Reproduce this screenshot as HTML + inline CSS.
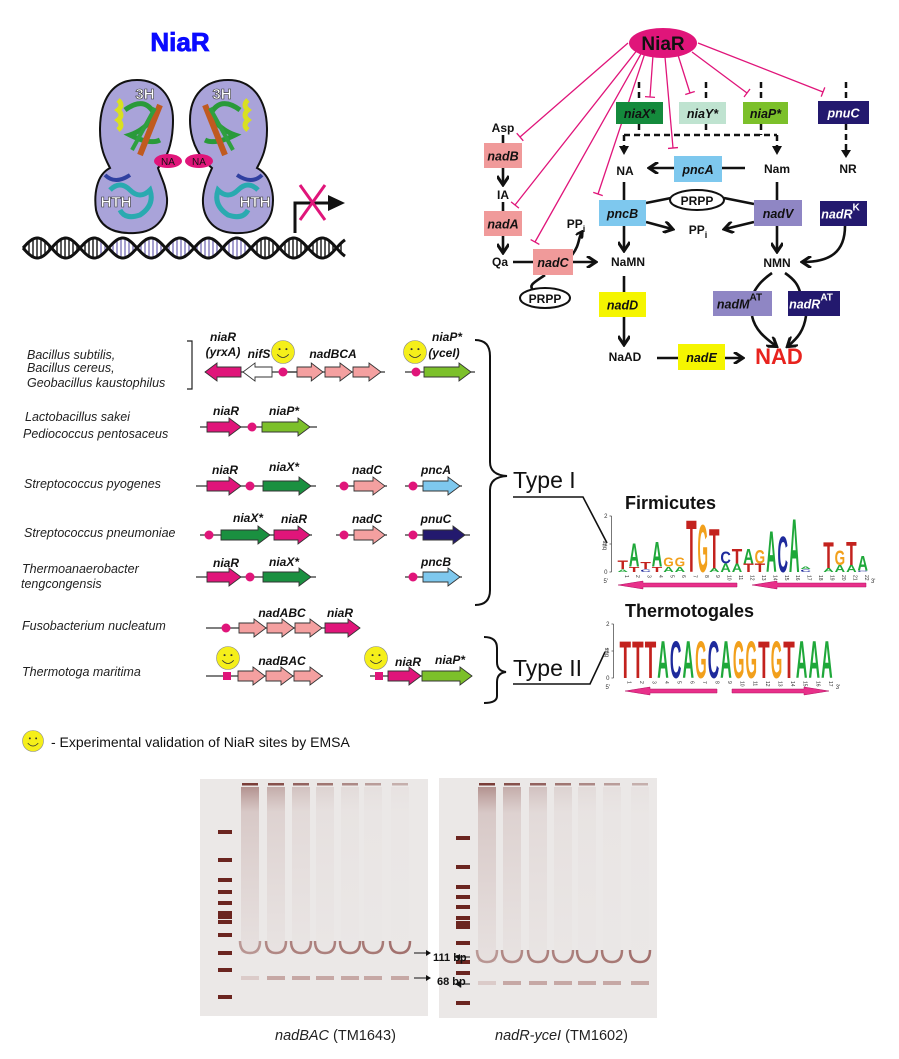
<!DOCTYPE html>
<html><head><meta charset="utf-8"><style>
html,body{margin:0;padding:0;background:#fff;}
svg{display:block;font-family:"Liberation Sans",sans-serif;}
.it{font-style:italic;font-weight:bold;font-size:12px;fill:#111;}
.sp{font-style:italic;font-size:12.5px;fill:#222;}
.bx{font-style:italic;font-weight:bold;font-size:12.5px;}
.mt{font-size:12px;font-weight:bold;fill:#111;}
</style></head><body>
<svg id="fig" width="899" height="1059" viewBox="0 0 899 1059">
<defs>
<linearGradient id="smear" x1="0" y1="0" x2="0" y2="1">
<stop offset="0" stop-color="#6e2a25" stop-opacity="0.45"/>
<stop offset="0.15" stop-color="#8a4a45" stop-opacity="0.2"/>
<stop offset="1" stop-color="#a06a66" stop-opacity="0.06"/>
</linearGradient>
<marker id="ah" markerWidth="8" markerHeight="8" refX="6" refY="4" orient="auto" markerUnits="userSpaceOnUse"><path d="M0,0 L7,4 L0,8" fill="none" stroke="#111" stroke-width="2.4"/></marker>
<marker id="ah2" markerWidth="12" markerHeight="12" refX="9" refY="6" orient="auto" markerUnits="userSpaceOnUse"><path d="M1,0 L10,6 L1,12" fill="none" stroke="#111" stroke-width="3"/></marker>
</defs>

<!-- ===== top-left protein ===== -->
<g>
<text x="180" y="51" text-anchor="middle" font-size="26" font-weight="bold" fill="#0a0aff" stroke="#0a0aff" stroke-width="0.8">NiaR</text>
<g id="dna"></g>
<g>
<path d="M137,80 C112,80 100,100 100,130 C100,150 106,160 110,168 C96,175 94,195 96,210 C100,228 115,234 135,233 C158,232 168,215 167,198 C166,185 160,175 158,168 C166,160 173,145 173,120 C173,95 158,80 137,80 Z" fill="#a9a3d9" stroke="#111" stroke-width="2"/>
<path d="M118,100 q6,5 0,10 q6,5 0,10 q6,5 0,10" stroke="#d9e020" stroke-width="5" fill="none"/>
<path d="M125,110 q20,-15 30,5 q-10,15 -25,20 q20,10 30,5" stroke="#2a9a3a" stroke-width="5" fill="none"/>
<path d="M140,155 L160,105" stroke="#c05a20" stroke-width="6"/>
<path d="M132,150 L155,108" stroke="#2fa040" stroke-width="4"/>
<path d="M110,190 q10,-10 20,0 q10,10 20,0 q5,15 -10,25 q-15,5 -20,-5" stroke="#2aaab0" stroke-width="5" fill="none"/>
<path d="M105,175 q10,10 25,0" stroke="#3040a0" stroke-width="4" fill="none"/>
</g>
<g>
<path d="M228,80 C253,80 267,100 267,130 C267,150 261,160 257,168 C271,175 275,195 272,210 C268,228 253,234 234,233 C211,232 202,215 203,198 C204,185 209,175 212,168 C202,160 190,145 190,120 C190,95 205,80 228,80 Z" fill="#a9a3d9" stroke="#111" stroke-width="2"/>
<path d="M248,100 q-6,5 0,10 q-6,5 0,10 q-6,5 0,10" stroke="#d9e020" stroke-width="5" fill="none"/>
<path d="M240,110 q-20,-15 -30,5 q10,15 25,20 q-20,10 -30,5" stroke="#2a9a3a" stroke-width="5" fill="none"/>
<path d="M225,155 L205,105" stroke="#c05a20" stroke-width="6"/>
<path d="M233,150 L210,108" stroke="#2fa040" stroke-width="4"/>
<path d="M258,190 q-10,-10 -20,0 q-10,10 -20,0 q-5,15 10,25 q15,5 20,-5" stroke="#2aaab0" stroke-width="5" fill="none"/>
<path d="M262,175 q-10,10 -25,0" stroke="#3040a0" stroke-width="4" fill="none"/>
</g>
<g font-weight="bold" font-size="15" fill="#fff" stroke="#333" stroke-width="0.6">
<text x="145" y="99" text-anchor="middle">3H</text>
<text x="222" y="99" text-anchor="middle">3H</text>
<text x="116" y="207" text-anchor="middle">HTH</text>
<text x="255" y="207" text-anchor="middle">HTH</text>
</g>
<ellipse cx="168" cy="161" rx="14" ry="7" fill="#e0157a"/>
<ellipse cx="199" cy="161" rx="14" ry="7" fill="#e0157a"/>
<text x="168" y="165" text-anchor="middle" font-size="10" fill="#111">NA</text>
<text x="199" y="165" text-anchor="middle" font-size="10" fill="#111">NA</text>
<g>
<path d="M295,233 L295,203 L330,203" stroke="#111" stroke-width="3" fill="none"/>
<path d="M328,195 L345,203 L328,211 Z" fill="#111"/>
<path d="M300,185 L325,220 M325,185 L300,220" stroke="#e0157a" stroke-width="3"/>
</g>
</g>

<!-- ===== pathway ===== -->
<g>
<g id="inhib" stroke="#e0157a" stroke-width="1.3" fill="none"></g>
<ellipse cx="663" cy="43" rx="34" ry="15" fill="#e0157a"/>
<text x="663" y="50" text-anchor="middle" font-size="19" font-weight="bold" fill="#111">NiaR</text>
<g stroke="#111" stroke-width="2.5" fill="none" stroke-dasharray="6,4">
<path d="M639,82 V102 M639,124 V135 M706,82 V102 M706,124 V135 M761,82 V102 M761,124 V135 M846,82 V101 M624,135 H777"/>
<path d="M624,135 V148 M777,135 V148 M846,124 V152"/>
</g>
<g fill="#111"><path d="M619,146 L624,155 L629,146 Z M772,146 L777,155 L782,146 Z M841,150 L846,158 L851,150 Z"/></g>
<g stroke="#111" stroke-width="2.6" fill="none">
<path d="M503,135 V143"/>
<path d="M503,168 V184" marker-end="url(#ah2)"/>
<path d="M503,202 V211"/>
<path d="M503,236 V252" marker-end="url(#ah2)"/>
<path d="M513,262 H533"/>
<path d="M573,262 H595" marker-end="url(#ah2)"/>
<path d="M572,255 C580,245 578,238 582,232" marker-end="url(#ah)"/>
<path d="M545,275 C535,282 528,285 533,290"/>
<path d="M745,168 H722"/>
<path d="M674,168 H650" marker-end="url(#ah2)"/>
<path d="M624,182 V200"/>
<path d="M624,226 V250" marker-end="url(#ah2)"/>
<path d="M646,203 L671,198 M724,198 L754,204"/>
<path d="M646,222 L672,229" marker-end="url(#ah2)"/>
<path d="M754,222 L725,229" marker-end="url(#ah2)"/>
<path d="M777,182 V200"/>
<path d="M777,226 V251" marker-end="url(#ah2)"/>
<path d="M845,226 C845,252 830,262 803,262" marker-end="url(#ah2)"/>
<path d="M624,276 V292"/>
<path d="M624,317 V344" marker-end="url(#ah2)"/>
<path d="M657,358 H678"/>
<path d="M725,358 H742" marker-end="url(#ah2)"/>
<path d="M772,273 C762,280 758,285 754,292"/>
<path d="M785,273 C795,280 798,285 800,292"/>
<path d="M752,316 C755,330 765,338 776,346" marker-end="url(#ah2)"/>
<path d="M806,316 C804,330 798,338 788,346" marker-end="url(#ah2)"/>
</g>
<ellipse cx="697" cy="200" rx="27" ry="10" fill="#fff" stroke="#111" stroke-width="2"/>
<text x="697" y="205" text-anchor="middle" class="mt">PRPP</text>
<ellipse cx="545" cy="298" rx="25" ry="10" fill="#fff" stroke="#111" stroke-width="2"/>
<text x="545" y="303" text-anchor="middle" class="mt">PRPP</text>
<g class="mt" text-anchor="middle">
<text x="503" y="132">Asp</text>
<text x="503" y="199">IA</text>
<text x="500" y="266">Qa</text>
<text x="576" y="228">PP<tspan font-size="9" dy="4">i</tspan></text>
<text x="625" y="175">NA</text>
<text x="777" y="173">Nam</text>
<text x="848" y="173">NR</text>
<text x="698" y="234">PP<tspan font-size="9" dy="4">i</tspan></text>
<text x="628" y="266">NaMN</text>
<text x="777" y="267">NMN</text>
<text x="625" y="361">NaAD</text>
</g>
<text x="779" y="364" text-anchor="middle" font-size="22" font-weight="bold" fill="#e8231e">NAD</text>
<g id="boxes"></g>
</g>

<!-- ===== operons ===== -->
<g>
<g class="sp">
<text x="27" y="359">Bacillus subtilis,</text>
<text x="27" y="372">Bacillus cereus,</text>
<text x="27" y="387">Geobacillus kaustophilus</text>
<text x="25" y="421">Lactobacillus sakei</text>
<text x="23" y="438">Pediococcus pentosaceus</text>
<text x="24" y="488">Streptococcus pyogenes</text>
<text x="24" y="537">Streptococcus pneumoniae</text>
<text x="22" y="573">Thermoanaerobacter</text>
<text x="21" y="588">tengcongensis</text>
<text x="22" y="630">Fusobacterium nucleatum</text>
<text x="22" y="676">Thermotoga maritima</text>
</g>
<path d="M187,341 H192 V389 H187" stroke="#222" stroke-width="1.2" fill="none"/>
<g id="operons"></g>
<g class="it" text-anchor="middle">
<text x="223" y="341">niaR</text>
<text x="223" y="356">(yrxA)</text>
<text x="259" y="358">nifS</text>
<text x="333" y="358">nadBCA</text>
<text x="447" y="341">niaP*</text>
<text x="444" y="357">(yceI)</text>
<text x="226" y="415">niaR</text>
<text x="284" y="415">niaP*</text>
<text x="225" y="474">niaR</text>
<text x="284" y="471">niaX*</text>
<text x="367" y="474">nadC</text>
<text x="436" y="474">pncA</text>
<text x="248" y="522">niaX*</text>
<text x="294" y="523">niaR</text>
<text x="367" y="523">nadC</text>
<text x="436" y="523">pnuC</text>
<text x="226" y="567">niaR</text>
<text x="284" y="566">niaX*</text>
<text x="436" y="566">pncB</text>
<text x="282" y="617">nadABC</text>
<text x="340" y="617">niaR</text>
<text x="282" y="665">nadBAC</text>
<text x="408" y="666">niaR</text>
<text x="450" y="664">niaP*</text>
</g>
<g id="smileys"></g>
<path d="M475,340 Q490,340 490,356 L490,462 Q490,475 507,476 Q490,477 490,490 L490,590 Q490,605 475,605" stroke="#111" stroke-width="2" fill="none"/>
<path d="M484,637 Q497,637 497,648 L497,662 Q497,671 506,672 Q497,673 497,682 L497,696 Q497,703 484,703" stroke="#111" stroke-width="2" fill="none"/>
<text x="513" y="488" font-size="23" fill="#111">Type I</text>
<path d="M513,497 H583 L607,543" stroke="#111" stroke-width="1.6" fill="none"/>
<text x="513" y="676" font-size="23" fill="#111">Type II</text>
<path d="M513,684 H590 L605,652" stroke="#111" stroke-width="1.6" fill="none"/>
</g>

<!-- ===== logos ===== -->
<g>
<text x="625" y="509" font-size="18" font-weight="bold" fill="#111">Firmicutes</text>
<text x="625" y="617" font-size="18" font-weight="bold" fill="#111">Thermotogales</text>
<g id="logo1"></g>
<g id="logo2"></g>
</g>

<!-- legend -->
<g id="legendSmile"></g>
<text x="51" y="747" font-size="14" fill="#111">- Experimental validation of NiaR sites by EMSA</text>

<!-- ===== gels ===== -->
<g>
<rect x="200" y="779" width="228" height="237" fill="#ebe8e7"/>
<rect x="439" y="778" width="218" height="240" fill="#ebe8e7"/>
<g id="gels"></g>
<g font-size="11" font-weight="bold" fill="#111">
<text x="433" y="961">111 bp</text>
<text x="437" y="985">68 bp</text>
</g>
<path d="M414,953 H428 M414,978 H428 M470,957 H458 M470,984 H458" stroke="#111" stroke-width="1"/>
<path d="M426,950 L431,953 L426,956 Z M426,975 L431,978 L426,981 Z M460,954 L455,957 L460,960 Z M460,981 L455,984 L460,987 Z" fill="#111"/>
<text x="275" y="1040" font-size="14.5" fill="#222"><tspan font-style="italic">nadBAC</tspan> (TM1643)</text>
<text x="495" y="1040" font-size="14.5" fill="#222"><tspan font-style="italic">nadR-yceI</tspan> (TM1602)</text>
</g>
</svg>
<script>
const NS="http://www.w3.org/2000/svg";
function mk(tag,attrs,parent){const e=document.createElementNS(NS,tag);for(const k in attrs)e.setAttribute(k,attrs[k]);parent.appendChild(e);return e;}

// ---- pathway boxes
const boxNames=["niaX*","niaY*","niaP*","pnuC","nadB","nadA","nadC","pncA","pncB","nadV","nadR","nadD","nadM","nadR","nadE"];
const boxSup=["","","","","","","","","","","K","","AT","AT",""];
const boxRects=[[616,102,47,22],[679,102,47,22],[743,102,45,22],[818,101,51,23],[484,143,38,25],[484,211,38,25],[533,249,40,26],[674,156,48,26],[599,200,47,26],[754,200,48,26],[820,201,47,25],[599,292,47,25],[713,291,59,25],[788,291,52,25],[678,344,47,26]];
const boxFill=["#148a3c","#bfe3d0","#7cc02a","#23196e","#f09a9a","#f09a9a","#f09a9a","#7ec8ee","#7ec8ee","#8f86c4","#23196e","#f5f500","#8f86c4","#23196e","#f5f500"];
const boxText=["#111","#111","#111","#fff","#111","#111","#111","#111","#111","#111","#fff","#111","#111","#fff","#111"];
const gb=document.getElementById('boxes');
boxNames.forEach((n,i)=>{const r=boxRects[i];
 const b=mk('rect',{x:r[0],y:r[1],width:r[2],height:r[3],fill:boxFill[i]},gb);
 
 
 const t=mk('text',{x:r[0]+r[2]/2-(boxSup[i]?3:0),y:r[1]+r[3]/2+5,'text-anchor':'middle',class:'bx',fill:boxText[i]},gb);
 if(boxSup[i])t.setAttribute('font-size','12');
 t.textContent=n;
 
 
 if(boxSup[i]){const s=mk('tspan',{dy:-8,'font-style':'normal','font-size':'10'},t);s.textContent=boxSup[i];}
});
// inhibition lines
const inhib=[[628,43,520,137],[638,49,515,205],[642,52,535,242],[645,53,598,194],[653,55,650,97],[665,57,673,148],[678,55,690,93],[692,52,747,93],[698,43,823,92]];
const gi=document.getElementById('inhib');
inhib.forEach(l=>{const dx=l[2]-l[0],dy=l[3]-l[1],L=Math.hypot(dx,dy),px=-dy/L*5,py=dx/L*5;
 const p=mk('path',{d:`M${l[0]},${l[1]} L${l[2]},${l[3]} M${l[2]+px},${l[3]+py} L${l[2]-px},${l[3]-py}`},gi);
 
 });

// ---- DNA
const gd=document.getElementById('dna');
(function(){const x0=23,x1=345,yc=248,A=10,P=57;let d1='',d2='';
 for(let x=x0;x<=x1;x+=1){const y1=yc+A*Math.sin((x-x0)/P*2*Math.PI),y2=yc-A*Math.sin((x-x0)/P*2*Math.PI);d1+=(x==x0?'M':'L')+x+','+y1.toFixed(1);d2+=(x==x0?'M':'L')+x+','+y2.toFixed(1);}
 for(let x=x0+2;x<x1;x+=4){const s=A*Math.sin((x-x0)/P*2*Math.PI);mk('line',{x1:x,x2:x,y1:yc-Math.abs(s),y2:yc+Math.abs(s),stroke:(x>100&&x<255)?'#8880c0':'#222','stroke-width':1.5},gd);}
 mk('path',{d:d1,stroke:'#111','stroke-width':3,fill:'none'},gd);mk('path',{d:d2,stroke:'#111','stroke-width':3,fill:'none'},gd);})();

// ---- operons
const lineSegs=[[205,372,300,372],[280,372,385,372],[405,372,475,372],[200,427,317,427],[196,486,316,486],[336,486,387,486],[405,486,462,486],[200,535,312,535],[336,535,387,535],[405,535,470,535],[196,577,316,577],[405,577,462,577],[206,628,360,628],[206,676,323,676],[370,676,472,676]];
const geneX1=[205,243,297,325,353,424,207,262,207,263,354,423,221,274,354,423,207,263,423,239,267,295,325,238,266,294,388,422];
const geneX2=[241,272,323,352,381,471,241,310,241,311,385,460,270,310,385,465,241,311,460,266,294,322,360,265,293,322,421,472];
const geneY=[372,372,372,372,372,372,427,427,486,486,486,486,535,535,535,535,577,577,577,628,628,628,628,676,676,676,676,676];
const geneDir=[-1,-1,1,1,1,1,1,1,1,1,1,1,1,1,1,1,1,1,1,1,1,1,1,1,1,1,1,1];
const geneColor=["#e0157a","#fff","#f4a0a0","#f4a0a0","#f4a0a0","#7cc02a","#e0157a","#7cc02a","#e0157a","#1a9040","#f4a0a0","#7ec8ee","#1a9040","#e0157a","#f4a0a0","#23196e","#e0157a","#1a9040","#7ec8ee","#f4a0a0","#f4a0a0","#f4a0a0","#e0157a","#f4a0a0","#f4a0a0","#f4a0a0","#e0157a","#7cc02a"];
const siteX=[283,416,252,250,344,413,209,344,413,250,413,226];
const siteY=[372,372,427,486,486,486,535,535,535,577,577,628];
const sqX=[227,379], sqY=[676,676];
const go=document.getElementById('operons');
lineSegs.forEach(s=>{const l=mk('line',{x1:s[0],y1:s[1],x2:s[2],y2:s[3],stroke:'#333','stroke-width':1.2},go);
 
 });
geneX1.forEach((a,i)=>{const b=geneX2[i],y=geneY[i];let pts;
 if(geneDir[i]>0){const h=b-Math.min(12,(b-a)*0.45);pts=[[a,y-5],[h,y-5],[h,y-9],[b,y],[h,y+9],[h,y+5],[a,y+5]];}
 else{const h=a+Math.min(12,(b-a)*0.45);pts=[[b,y-5],[h,y-5],[h,y-9],[a,y],[h,y+9],[h,y+5],[b,y+5]];}
 const p=mk('polygon',{points:pts.map(q=>q.join(',')).join(' '),fill:geneColor[i],stroke:'#333','stroke-width':0.9},go);
 
 });
siteX.forEach((x,i)=>{const c=mk('circle',{cx:x,cy:siteY[i],r:4.5,fill:'#e0157a'},go);
 
 });
sqX.forEach((x,i)=>{const r=mk('rect',{x:x-4,y:sqY[i]-4,width:8,height:8,fill:'#e0157a'},go);
 
 });

function smiley(cx,cy,r,parent){const g=mk('g',{},parent);
 mk('circle',{cx:cx,cy:cy,r:r,fill:'#f5ef1a',stroke:'#888','stroke-width':0.6},g);
 mk('circle',{cx:cx-r*0.3,cy:cy-r*0.25,r:r*0.09,fill:'#333'},g);mk('circle',{cx:cx+r*0.3,cy:cy-r*0.25,r:r*0.09,fill:'#333'},g);
 mk('path',{d:`M${cx-r*0.5},${cy+r*0.2} Q${cx},${cy+r*0.75} ${cx+r*0.5},${cy+r*0.2}`,stroke:'#333','stroke-width':0.8,fill:'none'},g);return g;}
const smX=[283,415,228,376], smY=[352,352,658,658];
const gs=document.getElementById('smileys');
smX.forEach((x,i)=>{const s=smiley(x,smY[i],11.5,gs);
 
 });
const ls=smiley(33,741,10.5,document.getElementById('legendSmile'));



// ---- sequence logos
const COL={A:'#1fa83a',C:'#1e2a9c',G:'#f2a01c',T:'#c3221e'};
const firmLetters=["AT","TA","CT","TA","AG","AG","T","G","AT","AC","AT","TA","TG","A","C","A","CA","","AT","AG","AT","CA"];
const firmBits=[[0.1,0.3],[0.2,0.85],[0.1,0.25],[0.2,0.9],[0.2,0.32],[0.2,0.32],[1.9],[1.75],[0.15,1.45],[0.3,0.45],[0.3,0.55],[0.3,0.55],[0.3,0.5],[1.5],[1.3],[1.95],[0.1,0.1],[],[0.15,0.95],[0.25,0.55],[0.25,0.85],[0.05,0.55]];
const thermLetters="TTTACAGCAGGTGTAAA".split('');
const thermBits=[1.4,1.4,1.4,1.4,1.4,1.4,1.4,1.4,1.4,1.4,1.4,1.4,1.4,1.4,1.4,1.4,1.4];
function logo(g,x0,step,w,base,bpx,stacks,nTicks,arrows){
 mk('path',{d:`M${x0-6},${base-2*bpx} V${base}`,stroke:'#555','stroke-width':0.8},g);
 for(let b=0;b<=2;b++){mk('line',{x1:x0-8,x2:x0-6,y1:base-b*bpx,y2:base-b*bpx,stroke:'#555','stroke-width':0.8},g);
  const t=mk('text',{x:x0-10,y:base-b*bpx+2,'font-size':6,'text-anchor':'end',fill:'#333'},g);t.textContent=b;}
 const bt=mk('text',{x:0,y:0,'font-size':6,fill:'#333',transform:`translate(${x0-11},${base-bpx+6}) rotate(-90)`},g);bt.textContent='bits';
 const t5=mk('text',{x:x0-14,y:base+11,'font-size':6,fill:'#333'},g);t5.textContent="5'";
 const t3=mk('text',{x:x0+nTicks*step+2,y:base+11,'font-size':6,fill:'#333'},g);t3.textContent="3'";
 stacks.forEach((st,i)=>{let y=base;const xl=x0+i*step;
  st.forEach(([L,h])=>{const hp=h*bpx;if(hp<0.5)return;
   const t=mk('text',{x:0,y:0,'font-size':100,'font-weight':'bold',fill:COL[L],textLength:70,lengthAdjust:'spacingAndGlyphs',transform:`translate(${xl},${y}) scale(${w/70},${hp/72})`},g);
   t.textContent=L;
   
   
   y-=hp;});
  const n=mk('text',{x:0,y:0,'font-size':5,fill:'#333',transform:`translate(${xl+w/2+2},${base+3}) rotate(90)`},g);n.textContent=i+1;});
 arrows.forEach(a=>{const [xa,xb,y,dir]=a;const hx=dir<0?xa+25:xb-25;
  const pts=dir<0?`${xa},${y} ${hx},${y-4} ${hx},${y-2} ${xb},${y-2} ${xb},${y+2} ${hx},${y+2} ${hx},${y+4}`:`${xb},${y} ${hx},${y-4} ${hx},${y-2} ${xa},${y-2} ${xa},${y+2} ${hx},${y+2} ${hx},${y+4}`;
  const p=mk('polygon',{points:pts,fill:'#e8308a',stroke:'#b01060','stroke-width':0.5},g);
  
  });
}
logo(document.getElementById('logo1'),617.5,11.43,10.5,572,28,firmLetters.map((s,i)=>s.split('').map((L,j)=>[L,firmBits[i][j]])),22,[[618,737,585,-1],[752,866,585,-1]]);
logo(document.getElementById('logo2'),619.5,12.6,11.5,678,27,thermLetters.map((L,i)=>[[L,thermBits[i]]]),17,[[625,717,691,-1],[732,829,691,1]]);

// ---- gels
const ladder1=[832,860,880,892,903,913,917,922,935,953,970,997];
const ladder2=[838,867,887,897,907,918,923,927,943,962,973,1003];
const lanes1=[250,276,301,325,350,373,400];
const lanes2=[487,512,538,563,587,612,640];
const smearStrength=[1,0.7,0.45,0.25,0.15,0.1,0.07];
const freeBand=[0.5,0.6,0.65,0.65,0.7,0.7,0.75];
const gg=document.getElementById('gels');
function gel(lx,ladder,lanes,top,b1,b2){
 ladder.forEach(y=>{const r=mk('rect',{x:lx-7,y:y-2,width:14,height:4,fill:'#6b2520'},gg);
  
  });
 lanes.forEach((x,i)=>{
  mk('rect',{x:x-8,y:top,width:16,height:2.5,fill:'#6e2a25',opacity:0.9-i*0.1},gg);
  const s=mk('rect',{x:x-9,y:top+4,width:18,height:b1-top-4,fill:'url(#smear)',opacity:smearStrength[i]},gg);
  
  
  const c=mk('path',{d:`M${x-10},${b1-12} Q${x-10},${b1} ${x},${b1} Q${x+10},${b1} ${x+10},${b1-12}`,stroke:'#8a4a45','stroke-width':2.5,fill:'none',opacity:freeBand[i]},gg);
  
  
  const d=mk('rect',{x:x-9,y:b2-2,width:18,height:4,fill:'#9a5a55',opacity:i==0?0.2:0.45},gg);
  
  });
}
gel(225,ladder1,lanes1,783,953,978);
gel(463,ladder2,lanes2,783,962,983);
</script>
</body></html>
